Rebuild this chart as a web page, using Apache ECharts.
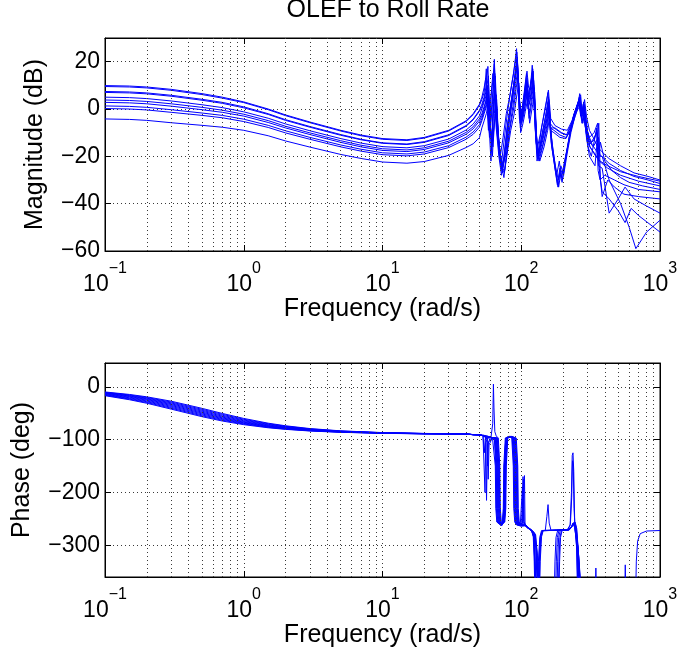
<!DOCTYPE html>
<html><head><meta charset="utf-8">
<script src="https://cdn.jsdelivr.net/npm/echarts@6/dist/echarts.min.js"></script>
<style>html,body{margin:0;padding:0;background:#fff}#c{width:681px;height:651px}</style>
</head><body><div id="c"></div>
<script>
// ---------- DATA ----------
const chartTitle = 'OLEF to Roll Rate';
const xTickValues = [0.1, 1, 10, 100, 1000];
const minorGridFreqs = [0.2,0.3,0.4,0.5,0.6,0.7,0.8,0.9, 2,3,4,5,6,7,8,9, 20,30,40,50,60,70,80,90, 200,300,400,500,600,700,800,900];

// Magnitude (dB): smooth low-frequency part on a shared frequency list
const magFreqLow = [0.1, 0.15, 0.2, 0.3, 0.5, 0.7, 1, 1.5, 2, 3, 5, 7, 10, 15, 20, 30, 40, 45, 50];
const magLow0 = [9.9, 9.7, 9.3, 8.3, 6.5, 5.0, 3.0, 0.0, -2.5, -5.5, -9.0, -11.0, -12.5, -13.0, -12.0, -9.0, -5.0, -2.0, 2.0];
const magLow1 = [9.5, 9.3, 8.9, 7.9, 6.1, 4.6, 2.7, -0.3, -2.8, -5.8, -9.3, -11.3, -12.8, -13.3, -12.3, -9.3, -5.3, -2.4, 1.6];
const magLow2 = [7.4, 7.2, 6.8, 5.8, 4.1, 2.8, 0.9, -2.0, -4.5, -7.4, -10.8, -12.8, -14.3, -14.8, -13.8, -10.9, -7.0, -4.3, -0.5];
const magLow3 = [7.0, 6.8, 6.4, 5.4, 3.7, 2.4, 0.5, -2.3, -4.8, -7.7, -11.1, -13.0, -14.5, -15.0, -14.1, -11.2, -7.3, -4.6, -0.9];
const magLow4 = [5.0, 4.8, 4.4, 3.4, 1.8, 0.6, -1.2, -3.9, -6.3, -9.2, -12.5, -14.4, -15.9, -16.4, -15.5, -12.7, -8.9, -6.4, -2.9];
const magLow5 = [3.8, 3.6, 3.2, 2.2, 0.7, -0.5, -2.2, -4.9, -7.3, -10.1, -13.4, -15.3, -16.8, -17.3, -16.4, -13.6, -9.9, -7.5, -4.1];
const magLow6 = [2.8, 2.6, 2.2, 1.2, -0.3, -1.4, -3.0, -5.7, -8.0, -10.8, -14.1, -16.0, -17.5, -18.0, -17.1, -14.3, -10.7, -8.4, -5.1];
const magLow7 = [1.3, 1.1, 0.7, -0.3, -1.7, -2.7, -4.3, -6.9, -9.2, -12.0, -15.2, -17.0, -18.5, -19.0, -18.2, -15.5, -11.9, -9.7, -6.6];
const magLow8 = [0.2, 0.0, -0.4, -1.4, -2.7, -3.7, -5.3, -7.8, -10.1, -12.8, -16.0, -17.8, -19.3, -19.8, -19.0, -16.3, -12.8, -10.7, -7.7];
const magLow9 = [-4.2, -4.4, -4.8, -5.8, -6.9, -7.7, -9.0, -11.3, -13.5, -16.1, -19.2, -20.9, -22.4, -22.9, -22.2, -19.6, -16.3, -14.7, -12.1];

// Magnitude (dB): resonant high-frequency part, [frequency, dB]
const magHigh0 = [[52,5],[54,9],[55.5,13],[56.5,2],[58,-9],[60,4],[62.5,12],[64,21],[65.5,3],[68,-12],[71,-19],[74,-12],[78,-2],[83,6],[88,15],[92.5,25.5],[96,8],[99.5,-5],[104,5],[109,15],[112,7],[115,5],[120,18.5],[125,2],[131,-20],[140,-8],[150,1],[157,8],[163,-4],[175,-7],[195,-8.5],[215,-9],[232,-5],[248,0],[258,3],[264,6.5],[270,1],[278,-1],[286,4],[295,-3],[310,-9],[330,-12],[355,-16],[380,-18],[430,-21],[520,-24],[650,-27],[820,-28.5],[1000,-30]];
const magHigh1 = [[52,4],[54,7],[55,11],[56,17],[57,3],[59,-12],[61,0],[63,10],[64.5,15],[66,-2],[69,-16],[72,-23],[75,-14],[79,-3],[84,8],[89,17],[93,24],[96.5,5],[100,-2],[105,6],[110,16],[113,9],[117,8],[121,17],[126,0],[130,-17],[138,-10],[148,0],[156,7],[161,-6],[172,-8],[192,-10],[212,-11],[230,-6],[246,-1],[256,2],[262,5],[268,-1],[276,-6],[284,2],[292,-5],[305,-12],[325,-15],[350,-18],[380,-20],[430,-23],[520,-26],[650,-28.5],[820,-30],[1000,-31.5]];
const magHigh2 = [[52,2],[54,5],[56,10],[57.5,18],[58.5,5],[60,-8],[62,2],[64,19],[66,0],[69,-14],[73,-26],[76,-18],[80,-6],[85,4],[90,14],[93.5,22],[97,4],[100,-6],[105,3],[109,12],[112,5],[116,10],[120,15],[125,-3],[130,-22],[140,-12],[150,-3],[157,5],[162,-8],[172,-9],[190,-11],[210,-12],[228,-9],[245,-2],[258,1],[265,4],[272,-2],[282,3],[290,-6],[300,-10],[320,-14],[352,-10],[360,-22],[372,-14],[400,-22],[450,-26],[520,-29],[600,-31],[750,-32.5],[1000,-34]];
const magHigh3 = [[52,1],[54,4],[56,8],[58,14],[59.5,-4],[61,-15],[63,3],[65,14],[67,-4],[70,-18],[74,-24],[77,-16],[81,-4],[86,5],[91,16],[94,20],[97.5,2],[101,-4],[106,4],[110,13],[113,4],[118,12],[122,16],[127,-6],[132,-20],[142,-10],[152,-1],[158,4],[163,-8],[175,-8],[195,-10],[215,-11],[232,-6],[250,1],[260,4],[268,6],[275,-2],[285,1],[295,-8],[310,-12],[335,-10],[355,-6],[365,-25],[383,-37],[420,-30],[470,-33],[550,-36],[700,-37],[1000,-38]];
const magHigh4 = [[52,0],[54,3],[56,6],[57.5,0],[59,-10],[61,8],[62.5,15],[64,5],[66,-8],[69,-20],[72,-28],[75,-20],[79,-8],[84,2],[89,12],[93,21],[97,0],[100,-3],[104,3],[108,10],[112,3],[117,6],[121,13],[126,-8],[131,-21],[141,-13],[151,-4],[157,3],[162,-9],[172,-10],[190,-12],[210,-12.5],[230,-8],[248,-2],[258,2],[266,5],[273,-3],[283,0],[292,-8],[305,-13],[330,-16],[360,-12],[370,-20],[383,-20],[430,-30],[520,-40],[600,-50],[670,-59],[800,-52],[1000,-47]];
const magHigh5 = [[52,-2],[54,1],[56,4],[58,8],[59.5,-5],[61,-18],[63,0],[65,10],[67,-6],[70,-19],[74,-24],[78,-17],[82,-5],[87,5],[91,14],[94,19],[98,-2],[101,-5],[106,3],[110,11],[114,2],[119,7],[123,12],[128,-10],[133,-19],[143,-12],[153,-4],[158,2],[165,-12],[172,-20],[180,-28],[188,-22],[195,-29],[205,-22],[220,-14],[235,-4],[248,0],[258,3],[265,5],[272,-2],[280,2],[290,-5],[300,-14],[320,-17],[345,-20],[370,-22],[420,-24],[520,-26.5],[700,-28.5],[1000,-30.5]];
const magHigh6 = [[52,-3],[54,0],[55.5,3],[57,10],[58.5,-6],[60.5,-22],[62.5,-4],[64.5,8],[66.5,-8],[69.5,-20],[73,-27],[77,-19],[81,-7],[86,3],[90,12],[93.5,18],[97,-4],[100,-6],[104,2],[108,9],[112,0],[118,6],[122,11],[127,-12],[132,-21],[142,-14],[152,-6],[157,1],[164,-14],[174,-24],[182,-32],[190,-25],[198,-30],[210,-20],[225,-10],[240,-2],[255,2],[262,4],[270,-1],[278,-6],[288,0],[298,-8],[312,-16],[340,-19],[365,-22],[420,-25],[520,-28],[700,-30.5],[1000,-32.5]];
const magHigh7 = [[52,-4],[54,-1],[56,2],[58,6],[60,-8],[62,-20],[64,-2],[66,6],[68,-10],[71,-22],[75,-29],[78,-20],[82,-9],[87,1],[91,10],[94,16],[98,-6],[102,-4],[106,1],[110,8],[114,-2],[119,5],[123,10],[128,-14],[134,-22],[144,-15],[153,-7],[158,0],[166,-16],[176,-26],[184,-33],[190,-27],[197,-31],[208,-22],[222,-12],[238,-3],[252,1],[260,3],[268,-3],[276,0],[286,-6],[296,-11],[310,-15],[335,-13],[350,-9],[358,-26],[370,-30],[400,-28],[470,-30],[550,-32],[700,-34],[1000,-35]];
const magHigh8 = [[52,-5],[54,-2],[56,1],[58,4],[60.5,-10],[62.5,-16],[64.5,-4],[66.5,4],[68.5,-12],[71.5,-24],[75.5,-27],[79,-18],[83,-8],[88,0],[92,9],[95,14],[98.5,-8],[102,-5],[106,0],[110,6],[114,-4],[120,4],[124,9],[129,-15],[135,-20],[145,-14],[154,-8],[159,-1],[167,-15],[176,-24],[185,-30],[193,-24],[200,-27],[212,-18],[226,-9],[242,-2],[255,1],[263,2],[272,-4],[282,-1],[292,-9],[303,-16],[320,-20],[350,-8],[360,-24],[383,-25],[430,-44],[500,-38],[560,-33],[650,-38],[800,-41],[1000,-44]];
const magHigh9 = [[52,-8],[54,-5],[56,-2],[58,2],[60,-8],[62,-14],[64,-6],[66.5,1],[69,-14],[72,-25],[76,-26],[80,-17],[84,-9],[89,-2],[93,6],[96,11],[99,-10],[103,-6],[107,-1],[111,4],[115,-6],[121,2],[125,7],[130,-16],[136,-22],[146,-16],[155,-9],[160,-3],[168,-17],[178,-27],[186,-33],[194,-26],[202,-28],[214,-19],[228,-10],[244,-3],[256,0],[264,1],[274,-6],[285,-3],[295,-12],[310,-20],[340,-24],[362,-6],[372,-30],[383,-35],[430,-38],[500,-43],[560,-48],[620,-42],[700,-45],[1000,-52]];

// Phase (deg): smooth low-frequency part on a shared frequency list
const phaseFreqLow = [0.1, 0.15, 0.2, 0.3, 0.5, 0.7, 1, 1.5, 2, 3, 5, 10, 20, 40];
const phaseLow0 = [-9.8, -14.5, -19.0, -27.3, -40.8, -50.4, -59.9, -68.9, -73.8, -79.1, -83.4, -86.7, -88.3, -89.2];
const phaseLow1 = [-10.5, -15.5, -20.3, -28.9, -42.6, -52.1, -61.4, -70.0, -74.7, -79.7, -83.8, -86.9, -88.4, -89.3];
const phaseLow2 = [-11.2, -16.5, -21.5, -30.5, -44.4, -53.9, -62.9, -71.1, -75.6, -80.3, -84.2, -87.1, -88.5, -89.3];
const phaseLow3 = [-11.8, -17.4, -22.8, -32.1, -46.2, -55.6, -64.3, -72.2, -76.4, -80.9, -84.5, -87.2, -88.6, -89.4];
const phaseLow4 = [-12.5, -18.4, -24.0, -33.7, -48.0, -57.3, -65.8, -73.3, -77.3, -81.5, -84.9, -87.4, -88.7, -89.4];
const phaseLow5 = [-13.4, -19.6, -25.4, -35.4, -49.7, -58.8, -67.0, -74.2, -78.0, -81.9, -85.2, -87.5, -88.8, -89.4];
const phaseLow6 = [-14.3, -20.8, -26.9, -37.1, -51.4, -60.3, -68.2, -75.0, -78.6, -82.4, -85.4, -87.7, -88.9, -89.4];
const phaseLow7 = [-15.1, -22.1, -28.3, -38.9, -53.2, -61.8, -69.3, -75.9, -79.3, -82.8, -85.7, -87.8, -88.9, -89.5];
const phaseLow8 = [-16.0, -23.3, -29.8, -40.6, -54.9, -63.3, -70.5, -76.7, -80.0, -83.3, -85.9, -88.0, -89.0, -89.5];
const phaseLow9 = [-16.9, -24.5, -31.2, -42.3, -56.6, -64.8, -71.7, -77.6, -80.6, -83.7, -86.2, -88.1, -89.1, -89.5];

// Phase (deg): high-frequency part, [frequency, deg]; values below -360 leave the plot
const phaseHigh0 = [[45,-90.4],[50,-91],[54,-92],[58,-94],[62,-96],[63.43,-97],[65.02,-150],[65.56,-230],[66.66,-256],[71.22,-262],[76.10,-256],[77.37,-230],[78.01,-150],[79.98,-97],[85.45,-94],[92.07,-97],[94.39,-150],[95.17,-230],[96.76,-256],[99.19,-261],[101,-257],[103,-170],[104,-255],[110,-265],[118,-270],[123,-280],[125,-330],[127,-420],[132,-420],[134,-330],[137,-285],[141,-273],[180,-271],[215,-270],[225,-262],[230,-200],[233,-130],[236,-125],[239,-160],[243,-262],[250,-300],[256,-420],[340,-420],[345,-343],[350,-420],[665,-420],[675,-330],[690,-292],[720,-278],[800,-273],[1000,-272]];
const phaseHigh1 = [[45,-90.5],[50,-91],[53,-92.5],[56,-95],[60,-96],[63.95,-97],[65.56,-150],[66.11,-230],[67.21,-256],[71.22,-262],[75.47,-256],[76.73,-230],[77.37,-150],[79.32,-97],[84.75,-94],[91.31,-97],[93.61,-150],[94.39,-230],[95.96,-256],[98.38,-261],[100,-258],[102,-190],[103,-255],[110,-266],[118,-272],[122,-282],[124,-330],[126,-420],[131,-420],[133,-330],[136,-285],[140,-272],[180,-271],[218,-270],[226,-260],[231,-210],[234,-140],[237,-150],[240,-230],[244,-265],[252,-310],[258,-420],[555,-420],[562,-337],[570,-420],[1000,-420]];
const phaseHigh2 = [[45,-90.5],[50,-91],[53,-92.5],[54.2,-95],[54.8,-200],[55.4,-105],[58,-96],[64.48,-97],[66.11,-150],[66.66,-230],[67.77,-256],[71.81,-262],[75.47,-256],[76.73,-230],[77.37,-150],[79.32,-97],[84.75,-94],[90.56,-97],[92.84,-150],[93.61,-230],[95.17,-256],[97.56,-261],[101,-257],[104,-175],[105,-258],[112,-267],[119,-273],[123,-285],[125.5,-340],[127.5,-420],[133,-420],[135,-330],[138,-284],[142,-272],[149,-272],[153,-245],[156,-223],[159,-258],[164,-272],[215,-271],[228,-266],[236,-258],[242,-266],[252,-295],[262,-420],[1000,-420]];
const phaseHigh3 = [[45,-90.5],[50,-91],[53,-92.5],[54.2,-125],[55,-98],[60,-96],[65.02,-97],[66.66,-150],[67.21,-230],[68.33,-256],[71.81,-262],[74.85,-256],[76.10,-230],[76.73,-150],[78.66,-97],[84.05,-94],[89.81,-97],[92.07,-150],[92.84,-230],[94.39,-256],[96.76,-261],[102,-258],[105.5,-168],[106.5,-260],[113,-268],[120,-274],[124,-290],[126.5,-350],[128.5,-420],[134,-420],[136,-330],[139,-284],[143,-272],[216,-271],[230,-265],[238,-257],[244,-266],[254,-300],[264,-420],[1000,-420]];
const phaseHigh4 = [[45,-90.6],[50,-91],[53,-92.5],[56,-95],[60,-96],[65.56,-97],[67.21,-150],[67.77,-230],[68.90,-256],[71.81,-262],[74.85,-256],[76.10,-230],[76.73,-150],[78.66,-97],[83.36,-94],[89.07,-97],[91.31,-150],[92.07,-230],[93.61,-256],[95.96,-261],[103,-259],[107,-262],[114,-268],[121,-275],[125,-295],[127,-360],[129,-420],[135,-420],[137,-330],[140,-284],[144,-272],[217,-271],[232,-264],[240,-258],[246,-268],[256,-305],[266,-420],[1000,-420]];
const phaseHigh5 = [[45,-90.6],[50,-91],[53,-92.5],[55.5,-95],[56.2,-215],[57,-110],[60,-96],[66.11,-97],[67.77,-150],[68.33,-230],[69.47,-256],[71.81,-262],[74.23,-256],[75.47,-230],[76.10,-150],[78.01,-97],[83.36,-94],[88.33,-97],[90.56,-150],[91.31,-230],[92.84,-256],[95.17,-261],[104,-260],[110,-266],[117,-270],[123,-276],[127,-300],[130,-370],[132,-420],[172,-420],[175,-330],[178,-285],[183,-272],[218,-271],[233,-264],[241,-259],[247,-268],[257,-310],[268,-420],[1000,-420]];
const phaseHigh6 = [[45,-90.6],[50,-91],[53,-92.5],[57,-95],[61,-96],[66.66,-97],[68.33,-150],[68.90,-230],[70.05,-256],[71.81,-262],[74.23,-256],[75.47,-230],[76.10,-150],[78.01,-97],[82.67,-94],[87.60,-97],[89.81,-150],[90.56,-230],[92.07,-256],[94.39,-261],[105,-261],[111,-267],[118,-271],[124,-277],[128,-305],[131,-380],[133,-420],[176,-420],[179,-330],[182,-285],[187,-272],[219,-271],[234,-263],[242,-258],[248,-268],[258,-315],[270,-420],[1000,-420]];
const phaseHigh7 = [[45,-90.7],[50,-91],[53,-92.5],[56.5,-98],[57.2,-150],[58,-105],[62,-96],[67.21,-97],[68.90,-150],[69.47,-230],[70.63,-256],[72.41,-262],[73.62,-256],[74.85,-230],[75.47,-150],[77.37,-97],[81.99,-94],[86.88,-97],[89.07,-150],[89.81,-230],[91.31,-256],[93.61,-261],[98,-262],[106,-262],[112,-268],[119,-272],[125,-278],[129,-310],[132,-390],[134,-420],[180,-420],[183,-330],[186,-285],[191,-272],[220,-271],[235,-262],[243,-257],[249,-268],[259,-320],[272,-420],[1000,-420]];
const phaseHigh8 = [[45,-90.7],[50,-91],[53,-92.5],[57.2,-98],[57.8,-175],[58.6,-110],[62,-96],[67.77,-97],[69.47,-150],[70.05,-230],[71.22,-256],[72.41,-262],[73.62,-256],[74.85,-230],[75.47,-150],[77.37,-97],[81.99,-94],[86.16,-97],[88.33,-150],[89.07,-230],[90.56,-256],[92.84,-261],[99,-263],[107,-262],[113,-268],[120,-272],[126,-279],[130,-315],[133,-400],[135,-420],[184,-420],[187,-330],[190,-285],[195,-272],[221,-271],[236,-262],[244,-257],[250,-268],[260,-325],[274,-420],[1000,-420]];
const phaseHigh9 = [[45,-90.8],[50,-91],[54,-92],[58,-94],[60.5,-96],[62.3,-70],[63,5],[63.6,-40],[64.5,-85],[66,-93],[68.33,-97],[70.05,-150],[70.63,-230],[71.81,-256],[72.41,-262],[73.01,-256],[74.23,-230],[74.85,-150],[76.73,-97],[81.31,-94],[85.45,-97],[87.60,-150],[88.33,-230],[89.81,-256],[92.07,-261],[100,-264],[108,-263],[114,-269],[121,-273],[127,-280],[131,-320],[134,-410],[136,-420],[186,-420],[189,-330],[192,-285],[197,-272],[222,-271],[237,-261],[245,-257],[251,-268],[261,-330],[276,-420],[1000,-420]];

// ---------- CHART ----------
const FONT = '"Liberation Sans", Arial, Helvetica, sans-serif';
const BLUE = '#0000ff';
const GRIDC = '#3a3a3a';

const magLows = [magLow0, magLow1, magLow2, magLow3, magLow4, magLow5, magLow6, magLow7, magLow8, magLow9];
const magHighs = [magHigh0, magHigh1, magHigh2, magHigh3, magHigh4, magHigh5, magHigh6, magHigh7, magHigh8, magHigh9];
const phaseLows = [phaseLow0, phaseLow1, phaseLow2, phaseLow3, phaseLow4, phaseLow5, phaseLow6, phaseLow7, phaseLow8, phaseLow9];
const phaseHighs = [phaseHigh0, phaseHigh1, phaseHigh2, phaseHigh3, phaseHigh4, phaseHigh5, phaseHigh6, phaseHigh7, phaseHigh8, phaseHigh9];

function decadeLabel(v) {
  const e = Math.round(Math.log10(v));
  const s = e < 0 ? '\u2212' + (-e) : String(e);
  return '{b|10}{e|' + s + '}';
}
function minusLabel(v) { return String(v).replace('-', '\u2212'); }

const dotted = { type: [1, 3], color: GRIDC, width: 1 };

function xAxes(gridIndex) {
  return [
    { gridIndex, type: 'log', logBase: 10, min: 0.1, max: 1000, position: 'bottom',
      name: 'Frequency (rad/s)', nameLocation: 'middle', nameGap: 40,
      nameTextStyle: { fontFamily: FONT, fontSize: 25, color: '#000' },
      axisLine: { show: true, onZero: false, lineStyle: { color: '#000', width: 1 } },
      axisTick: { show: true, inside: true, length: 6, lineStyle: { color: '#000' } },
      axisLabel: { show: true, margin: 10, formatter: decadeLabel, customValues: xTickValues,
        rich: { b: { fontFamily: FONT, fontSize: 23, color: '#000', padding: [12, 0, 0, 0] },
                e: { fontFamily: FONT, fontSize: 16, color: '#000', verticalAlign: 'top' } } },
      splitLine: { show: true, lineStyle: dotted } },
    { gridIndex, type: 'log', logBase: 10, min: 0.1, max: 1000, position: 'top',
      axisLine: { show: true, onZero: false, lineStyle: { color: '#000', width: 1 } },
      axisTick: { show: true, inside: true, length: 6, lineStyle: { color: '#000' } },
      axisLabel: { show: false }, splitLine: { show: false } }
  ];
}

function yAxes(gridIndex, cfg) {
  return [
    Object.assign({ gridIndex, type: 'value', position: 'left',
      name: cfg.name, nameLocation: 'middle', nameGap: cfg.nameGap, nameRotate: 90,
      nameTextStyle: { fontFamily: FONT, fontSize: 25, color: '#000' },
      axisLine: { show: true, onZero: false, lineStyle: { color: '#000', width: 1 } },
      axisTick: { show: true, inside: true, length: 6, lineStyle: { color: '#000' } },
      axisLabel: { show: true, margin: 5, fontFamily: FONT, fontSize: 23, color: '#000', formatter: minusLabel,
        showMinLabel: cfg.showMin, showMaxLabel: false },
      splitLine: { show: true, lineStyle: dotted } }, cfg.scale),
    Object.assign({ gridIndex, type: 'value', position: 'right',
      axisLine: { show: true, onZero: false, lineStyle: { color: '#000', width: 1 } },
      axisTick: { show: true, inside: true, length: 6, lineStyle: { color: '#000' } },
      axisLabel: { show: false }, splitLine: { show: false } }, cfg.scale)
  ];
}

const series = [];
function minorGridSeries(xi, yi) {
  return { type: 'line', xAxisIndex: xi, yAxisIndex: yi, data: [], silent: true, z: 1,
    markLine: { silent: true, symbol: ['none', 'none'], label: { show: false }, animation: false,
      lineStyle: dotted, emphasis: { disabled: true },
      data: minorGridFreqs.map(v => ({ xAxis: v })) } };
}
series.push(minorGridSeries(0, 0));
series.push(minorGridSeries(2, 2));

for (let i = 0; i < 10; i++) {
  series.push({ type: 'line', xAxisIndex: 0, yAxisIndex: 0, symbol: 'none', showSymbol: false,
    silent: true, z: 3, clip: true,
    lineStyle: { color: BLUE, width: 1 },
    data: magFreqLow.map((f, j) => [f, magLows[i][j]]).concat(magHighs[i]) });
}
for (let i = 0; i < 10; i++) {
  series.push({ type: 'line', xAxisIndex: 2, yAxisIndex: 2, symbol: 'none', showSymbol: false,
    silent: true, z: 3, clip: true,
    lineStyle: { color: BLUE, width: 1 },
    data: phaseFreqLow.map((f, j) => [f, phaseLows[i][j]]).concat(phaseHighs[i]) });
}

const option = {
  animation: false,
  backgroundColor: '#fff',
  title: { text: chartTitle, left: 383, top: -7, textAlign: 'center',
    textStyle: { fontFamily: FONT, fontSize: 25, fontWeight: 'normal', color: '#000' } },
  grid: [
    { left: 105, top: 38, width: 555, height: 213, show: true, borderColor: '#000', borderWidth: 1, backgroundColor: '#fff' },
    { left: 105, top: 363, width: 555, height: 214, show: true, borderColor: '#000', borderWidth: 1, backgroundColor: '#fff' }
  ],
  xAxis: xAxes(0).concat(xAxes(1)),
  yAxis: yAxes(0, { name: 'Magnitude (dB)', nameGap: 57, showMin: true, scale: { min: -60, max: 30, interval: 20 } })
    .concat(yAxes(1, { name: 'Phase (deg)', nameGap: 70, showMin: false, scale: { min: -360, max: 45, splitNumber: 5 } })),
  series: series
};

const chart = echarts.init(document.getElementById('c'), null, { renderer: 'canvas' });
chart.setOption(option);
</script></body></html>
